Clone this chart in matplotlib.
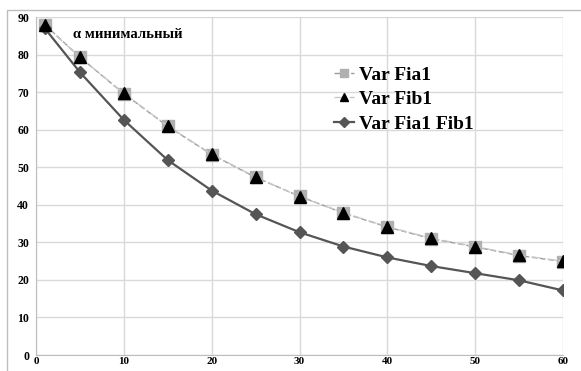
import matplotlib
matplotlib.use("Agg")
import matplotlib.pyplot as plt
from matplotlib.patches import Rectangle

# values
x = [1, 5, 10, 15, 20, 25, 30, 35, 40, 45, 50, 55, 60]
var_fia1 = [88.0, 79.3, 69.6, 60.9, 53.4, 47.3, 42.3, 37.8, 34.1, 31.0, 28.8, 26.5, 24.9]
var_fib1 = [87.8, 79.3, 69.7, 61.0, 53.5, 47.4, 42.2, 37.9, 34.2, 31.1, 28.9, 26.6, 25.0]
var_fia1_fib1 = [87.0, 75.3, 62.6, 51.9, 43.8, 37.5, 32.7, 28.9, 26.0, 23.7, 21.8, 19.9, 17.2]
labels = ["Var Fia1", "Var Fib1", "Var Fia1 Fib1"]

plt.rcParams["font.family"] = "Liberation Serif"
plt.rcParams["font.weight"] = "bold"

fig = plt.figure(figsize=(5.81, 3.71), dpi=100)
ax = fig.add_axes([0.062, 0.043, 0.907, 0.911])

# outer chart frame
fig.patches.append(Rectangle((7 / 581, -0.1), 1.2, (371 - 10) / 371 + 0.1,
                             transform=fig.transFigure, fill=False,
                             edgecolor="#bdbdbd", linewidth=1.0))

ax.plot(x, var_fia1, color="#9a9a9a", linestyle=(0, (4, 2)), linewidth=1.0,
        marker="s", markersize=8, markerfacecolor="#b0b0b0",
        markeredgecolor="#b0b0b0", label=labels[0], zorder=3)
ax.plot(x, var_fib1, color="#c8c8c8", linestyle=(0, (6, 2, 1, 2)), linewidth=1.0,
        marker="^", markersize=8, markerfacecolor="black",
        markeredgecolor="black", label=labels[1], zorder=4)
ax.plot(x, var_fia1_fib1, color="#555555", linestyle="-", linewidth=1.6,
        marker="D", markersize=6, markerfacecolor="#555555",
        markeredgecolor="#555555", label=labels[2], zorder=3)

ax.set_xlim(0, 60)
ax.set_ylim(0, 90)
ax.set_xticks(range(0, 61, 10))
ax.set_yticks(range(0, 91, 10))
ax.grid(True, color="#d9d9d9", linewidth=1.0)
ax.set_axisbelow(True)
for side in ["top", "right"]:
    ax.spines[side].set_visible(False)
ax.spines["left"].set_color("#bdbdbd")
ax.spines["bottom"].set_color("#bdbdbd")
ax.tick_params(length=0, labelsize=8.5)
ax.tick_params(axis="y", pad=5)
ax.tick_params(axis="x", pad=1.5, labelsize=8)
for lab in ax.get_xticklabels() + ax.get_yticklabels():
    lab.set_fontweight("bold")

ax.text(4.2, 84.3, "α минимальный", fontsize=10.5, fontweight="bold")

leg = ax.legend(loc="upper left", bbox_to_anchor=(0.54, 0.895), frameon=False,
                fontsize=14, handlelength=1.0, handletextpad=0.25,
                labelspacing=0.35, borderpad=0.2, markerscale=0.8)
for t in leg.get_texts():
    t.set_fontweight("bold")

fig.savefig("out.png", dpi=100)
